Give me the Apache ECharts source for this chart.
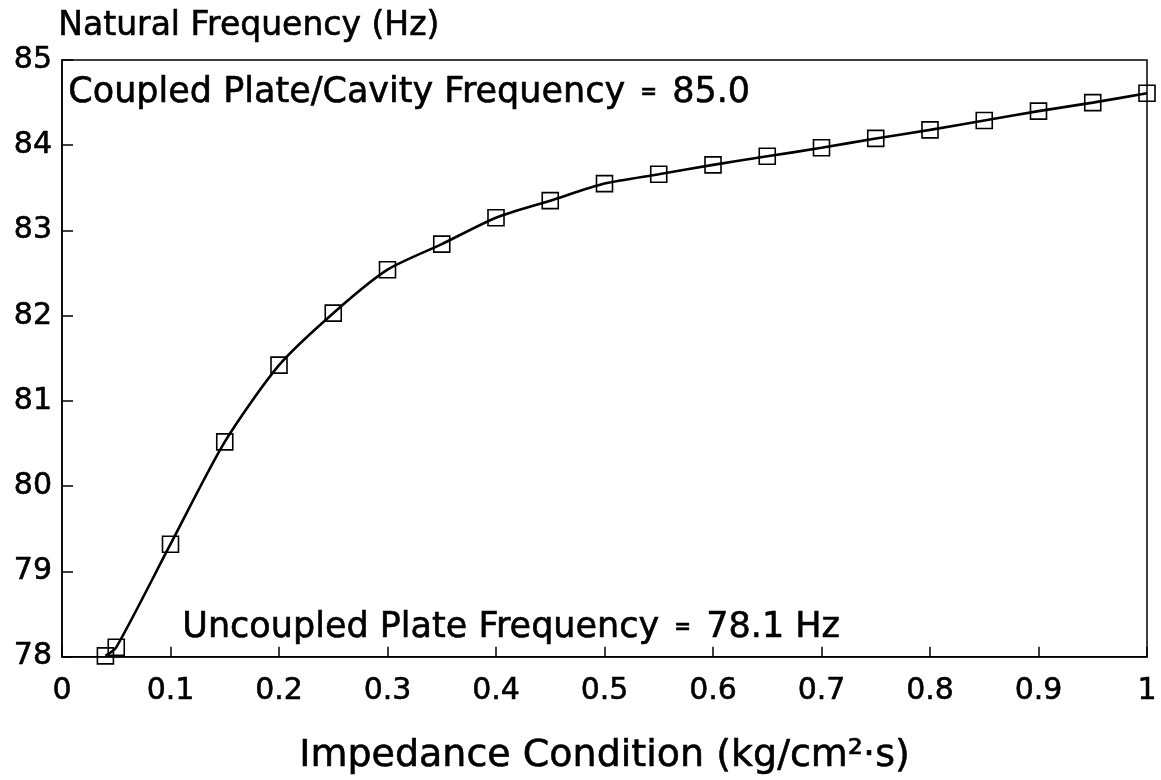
<!DOCTYPE html>
<html>
<head>
<meta charset="utf-8">
<script src="https://cdn.jsdelivr.net/npm/echarts@6/dist/echarts.min.js"></script>
<style>html,body{margin:0;padding:0;background:#fff;}#c{width:1161px;height:780px;}</style>
</head>
<body>
<div id="c"></div>
<script>
// Impedance condition (kg/cm^2 s)
const impedance = [0.04, 0.05, 0.10, 0.15, 0.20, 0.25, 0.30, 0.35, 0.40, 0.45, 0.50, 0.55, 0.60, 0.65, 0.70, 0.75, 0.80, 0.85, 0.90, 0.95, 1.00];
// Natural frequency (Hz)
const frequency = [78.01, 78.11, 79.32, 80.52, 81.42, 82.03, 82.54, 82.84, 83.15, 83.35, 83.55, 83.66, 83.77, 83.87, 83.97, 84.08, 84.18, 84.29, 84.40, 84.50, 84.61];
const yTitle = 'Natural Frequency (Hz)';
const xTitle = 'Impedance Condition (kg/cm²·s)';
const noteCoupledLabel = 'Coupled Plate/Cavity Frequency';
const noteCoupledValue = '85.0';
const noteUncoupledLabel = 'Uncoupled Plate Frequency';
const noteUncoupledValue = '78.1 Hz';

const FONT = 'DejaVu Sans';
const chart = echarts.init(document.getElementById('c'), null, {renderer: 'canvas'});
const pts = impedance.map((x, i) => [x, frequency[i]]);
const noteRich = {
  eq: {fontFamily: FONT, fontSize: 20, fontWeight: 'bold', color: '#000', padding: [0, 4, 0, 4]}
};
const heavy = {textBorderColor: '#000', textBorderWidth: 0.6};
chart.setOption({
  animation: false,
  backgroundColor: '#fff',
  grid: {left: 62, right: 14, top: 60, bottom: 100, show: true, borderColor: '#000', borderWidth: 1.5, backgroundColor: 'transparent'},
  xAxis: {
    type: 'value', min: 0, max: 1, interval: 0.1,
    name: xTitle, nameLocation: 'middle', nameGap: 80,
    nameTextStyle: Object.assign({fontFamily: FONT, fontSize: 38, color: '#000'}, heavy),
    axisLine: {show: true, lineStyle: {color: '#000', width: 1.5}},
    axisTick: {show: true, inside: true, length: 10, lineStyle: {color: '#000', width: 1.5}},
    axisLabel: Object.assign({fontFamily: FONT, fontSize: 30, color: '#000', margin: 20}, heavy),
    splitLine: {show: false}
  },
  yAxis: {
    type: 'value', min: 78, max: 85, interval: 1,
    axisLine: {show: true, lineStyle: {color: '#000', width: 1.5}},
    axisTick: {show: true, inside: true, length: 11, lineStyle: {color: '#000', width: 1.5}},
    axisLabel: Object.assign({fontFamily: FONT, fontSize: 30, color: '#000', margin: 10}, heavy),
    splitLine: {show: false}
  },
  graphic: [
    {type: 'text', left: 58, top: 10, style: {text: yTitle, fontFamily: FONT, fontSize: 33, fill: '#000', stroke: '#000', lineWidth: 0.6}},
    {type: 'text', left: 68, top: 75, style: {
      text: noteCoupledLabel + ' {eq|=} ' + noteCoupledValue, rich: noteRich,
      fontFamily: FONT, fontSize: 35, fill: '#000', stroke: '#000', lineWidth: 0.6}},
    {type: 'text', left: 182, top: 610, style: {
      text: noteUncoupledLabel + ' {eq|=} ' + noteUncoupledValue, rich: noteRich,
      fontFamily: FONT, fontSize: 35, fill: '#000', stroke: '#000', lineWidth: 0.6}}
  ],
  series: [{
    type: 'line',
    data: pts,
    smooth: 0.25,
    clip: false,
    symbol: 'rect',
    symbolSize: 16,
    showSymbol: true,
    lineStyle: {color: '#000', width: 2.6},
    itemStyle: {color: 'rgba(0,0,0,0)', borderColor: '#000', borderWidth: 1.6}
  }]
});
</script>
</body>
</html>
